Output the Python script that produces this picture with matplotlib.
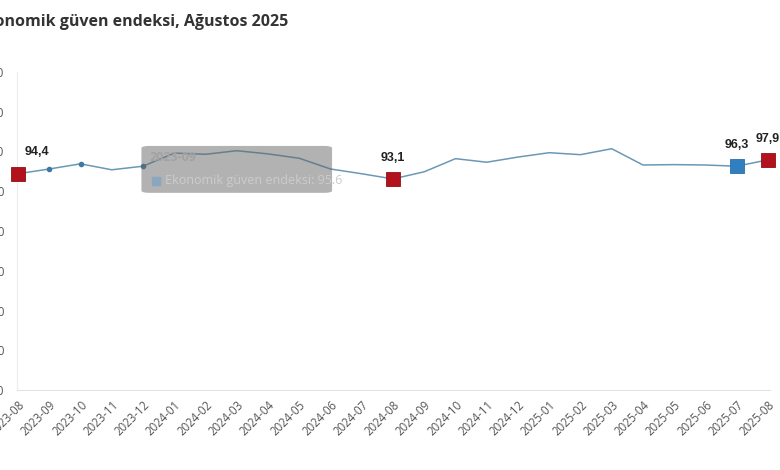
import numpy as np
import matplotlib
matplotlib.use("Agg")
import matplotlib.pyplot as plt
from matplotlib.patches import FancyBboxPatch

matplotlib.rcParams['font.family'] = ["Open Sans", "DejaVu Sans"]

title = "Ekonomik güven endeksi, Ağustos 2025"
months = ["2023-08", "2023-09", "2023-10", "2023-11", "2023-12",
          "2024-01", "2024-02", "2024-03", "2024-04", "2024-05", "2024-06", "2024-07",
          "2024-08", "2024-09", "2024-10", "2024-11", "2024-12",
          "2025-01", "2025-02", "2025-03", "2025-04", "2025-05", "2025-06", "2025-07", "2025-08"]
values = [94.4, 95.6, 96.9, 95.4, 96.3,
          99.6, 99.3, 100.2, 99.4, 98.3, 95.6, 94.4,
          93.1, 94.9, 98.2, 97.3, 98.6,
          99.7, 99.2, 100.7, 96.6, 96.7, 96.6, 96.3, 97.9]
yticks = [40, 50, 60, 70, 80, 90, 100, 110, 120]

# highlighted points (red), hovered point (blue), leftover small dots
red_idx = [0, 12, 24]
blue_idx = [23]
dot_idx = [1, 2, 4]
label_idx = [0, 12, 23, 24]

tooltip_month = "2023-09"
tooltip_series = "Ekonomik güven endeksi"
tooltip_value = "95.6"

W, H = 780, 470
fig = plt.figure(figsize=(W / 100, H / 100), dpi=100)
ax = fig.add_axes([17 / W, (H - 390) / H, 753 / W, 318 / H])

x = np.arange(len(months))
ax.plot(x, values, color="#6b98b6", lw=1.1, zorder=2)

ax.plot(x[dot_idx], [values[i] for i in dot_idx], "o", ms=3, color="#3f78a3", zorder=3)
ax.plot(x[red_idx], [values[i] for i in red_idx], "s", ms=10, color="#b3121c",
        markeredgecolor="#8e1016", mew=0.6, zorder=5, clip_on=False)
ax.plot(x[blue_idx], [values[i] for i in blue_idx], "s", ms=10, color="#2f7fc1",
        markeredgecolor="#2a6ea8", mew=0.6, zorder=5, clip_on=False)

for i in label_idx:
    txt = "{:.1f}".format(values[i]).replace(".", ",")
    dx = 0
    if i == 0:
        dx = 0.6
    ax.annotate(txt, (x[i] + dx, values[i]), xytext=(0, 11), textcoords="offset points",
                ha="center", va="bottom", fontsize=9, fontweight="bold",
                color="#222222", family=["Liberation Sans", "DejaVu Sans"], zorder=6)

# tooltip left over from the screenshot
box = FancyBboxPatch((3.95, 89.6), 6.1, 11.8, boxstyle="round,pad=0,rounding_size=0.25",
                     mutation_aspect=2.2, facecolor="#666666", edgecolor="none",
                     alpha=0.5, zorder=4)
ax.add_patch(box)
ax.text(4.2, 98.6, tooltip_month, fontsize=9, fontweight="bold", color="#a2a2a2",
        va="center", zorder=5)
ax.plot([4.4], [92.6], "s", ms=6, color="#8aa7bf", zorder=5)
ax.text(4.7, 92.6, tooltip_series + ": " + tooltip_value, fontsize=9, color="#cccccc",
        va="center", zorder=5)

ax.set_xlim(-1 / 31.25, 24 + 2 / 31.25)
ax.set_ylim(40, 120)
ax.set_yticks(yticks)
ax.set_xticks(x)
ax.set_xticklabels(months, rotation=45, ha="right", rotation_mode="anchor",
                   fontsize=8.3, color="#555555")
ax.tick_params(axis="x", length=0, pad=6)
ax.tick_params(axis="y", length=0, pad=9, labelsize=8.5, labelcolor="#555555")

for s in ["top", "right"]:
    ax.spines[s].set_visible(False)
ax.spines["left"].set_color("#ececec")
ax.spines["bottom"].set_color("#e3e3e3")
ax.spines["left"].set_linewidth(0.8)
ax.spines["bottom"].set_linewidth(0.8)

fig.text(288 / W, 1 - 22 / H, title, ha="right", va="center", fontsize=11.5,
         fontweight="bold", color="#333333")

fig.savefig("out.png", dpi=100)
